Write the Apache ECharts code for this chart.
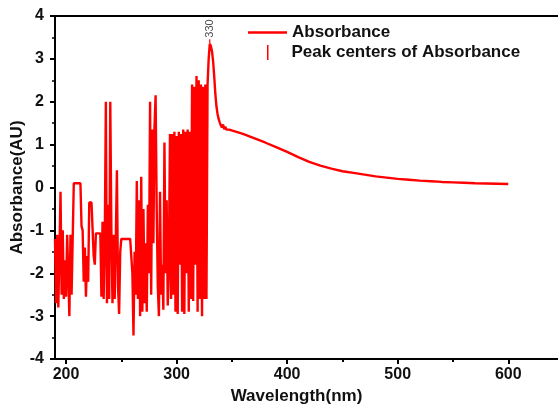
<!DOCTYPE html>
<html><head><meta charset="utf-8">
<script src="https://cdn.jsdelivr.net/npm/echarts@6/dist/echarts.min.js"></script>
<style>html,body{margin:0;padding:0;background:#fff}#c{width:558px;height:408px}</style>
</head><body><div id="c"></div>
<script>
const wavelength = [190,191,192,193,194,195,196,197,198,199,200,201,202,203,204,205,206,207,208,209,210,211,212,213,214,215,216,217,218,219,220,221,222,223,224,225,226,227,228,229,230,231,232,233,234,235,236,237,238,239,240,241,242,243,244,245,246,247,248,249,250,251,252,253,254,255,256,257,258,259,260,261,262,263,264,265,266,267,268,269,270,271,272,273,274,275,276,277,278,279,280,281,282,283,284,285,286,287,288,289,290,291,292,293,294,295,296,297,298,299,300,301,302,303,304,305,306,307,308,309,310,311,312,313,314,315,316,317,318,319,320,321,322,323,324,325,326,327,328,329,330,331,332,333,334,335,336,337,338,339,340,341,342,343,344,345,346,347,348,349,350,360,370,380,390,400,410,420,430,440,450,460,470,480,490,500,510,520,530,540,550,560,570,580,590,600];
const absorbance = [-1.2,-2.7,-1.1,-2.8,-1.5,-0.1,-2.5,-1.0,-2.6,-1.7,-2.55,-1.1,-2.0,-3.0,-1.1,-2.5,-1.2,0.1,0.1,0.1,0.1,0.1,0.1,0.1,-0.9,-1.0,-2.2,-1.4,-2.55,-1.6,-2.2,-0.35,-0.35,-0.35,-0.35,-1.6,-1.8,-1.07,-1.07,-1.07,-1.07,-1.07,-2.55,-0.8,-2.6,-1.3,2.0,-2.7,-0.4,-2.6,2.0,-1.0,-2.7,-1.1,-2.6,-1.2,0.4,-2.3,-2.95,-1.5,-1.2,-1.2,-1.2,-1.2,-1.2,-1.2,-1.2,-1.2,-1.2,-1.2,-2.0,-3.45,-1.5,-2.5,0.15,-2.6,-0.3,-3.0,0.25,-2.9,-0.5,-2.7,-1.3,-2.9,-0.4,-2.0,2.0,-2.5,1.35,-1.3,1.4,2.15,-0.5,-2.3,-3.0,-0.1,-2.5,-1.8,-2.85,1.05,-2.0,-0.3,-2.75,-1.8,1.25,-2.6,1.25,-2.5,1.3,-2.9,1.2,-2.95,1.3,-1.8,1.25,-2.9,1.35,-2.95,1.3,-2.0,1.35,-2.9,1.3,-2.6,2.4,-2.65,2.35,-1.8,2.6,-2.9,2.5,-2.6,2.4,-3.0,2.35,-2.6,2.4,-2.6,2.4,3.0,3.35,3.3,3.18,2.95,2.6,2.2,1.9,1.72,1.6,1.52,1.45,1.4,1.47,1.36,1.42,1.35,1.37,1.35,1.35,1.34,1.33,1.25,1.15,1.05,0.94,0.83,0.71,0.6,0.51,0.44,0.38,0.34,0.3,0.26,0.23,0.2,0.18,0.16,0.145,0.13,0.12,0.11,0.1,0.095,0.088,0.08];
const peakCenter = [330];
const peakSpan = [3.36, 3.46];
const xTicks = [200,300,400,500,600];
const xMinorTicks = [250,350,450,550];

const FONT = "'Liberation Sans', Arial, sans-serif";
const chart = echarts.init(document.getElementById('c'), null, {renderer:'canvas'});
const mainData = wavelength.map((w,i)=>[w, absorbance[i]]);
const peakData = [[peakCenter[0], peakSpan[0]], [peakCenter[0], peakSpan[1]]];

chart.setOption({
  animation:false,
  backgroundColor:'#fff',
  grid:{left:55, top:16, right:0, bottom:49, outerBoundsMode:'none'},
  legend:[
    {data:['Absorbance'], left:248, top:24, padding:0, icon:'rect', itemWidth:39, itemHeight:2.5,
     textStyle:{fontFamily:FONT, fontWeight:'bold', fontSize:17, color:'#111'}},
    {data:['Peak centers of Absorbance'], left:267, top:44, padding:0, icon:'rect', itemWidth:1.5, itemHeight:15,
     textStyle:{fontFamily:FONT, fontWeight:'bold', fontSize:17, color:'#111', padding:[0,0,0,18]}}
  ],
  xAxis:[
    {type:'value', min:190, max:645, position:'bottom',
     name:'Wavelength(nm)', nameLocation:'middle', nameGap:27,
     nameTextStyle:{fontFamily:FONT, fontWeight:'bold', fontSize:17, color:'#111', padding:[0,20,0,0]},
     axisLine:{show:true, onZero:false, lineStyle:{color:'#000', width:2}},
     axisTick:{show:true, customValues:xTicks, length:5, inside:false, lineStyle:{color:'#000', width:2}},
     axisLabel:{show:true, customValues:xTicks, margin:8, fontFamily:FONT, fontWeight:'bold', fontSize:16, color:'#111'},
     splitLine:{show:false}},
    {type:'value', min:190, max:645, position:'bottom', gridIndex:0,
     axisLine:{show:false, onZero:false},
     axisTick:{show:true, customValues:xMinorTicks, length:3, lineStyle:{color:'#000', width:2}},
     axisLabel:{show:false}, splitLine:{show:false}},
    {type:'value', min:190, max:645, position:'top', gridIndex:0,
     axisLine:{show:true, onZero:false, lineStyle:{color:'#000', width:2}},
     axisTick:{show:false}, axisLabel:{show:false}, splitLine:{show:false}}
  ],
  yAxis:{type:'value', min:-4, max:4, interval:1,
    name:'Absorbance(AU)', nameLocation:'middle', nameGap:29, nameMoveOverlap:false,
    nameTextStyle:{fontFamily:FONT, fontWeight:'bold', fontSize:17, color:'#111'},
    axisLine:{show:true, onZero:false, lineStyle:{color:'#000', width:2}},
    axisTick:{show:true, length:5, lineStyle:{color:'#000', width:2}},
    minorTick:{show:true, splitNumber:2, length:3, lineStyle:{color:'#000', width:1.5}},
    axisLabel:{margin:11, fontFamily:FONT, fontWeight:'bold', fontSize:16, color:'#111'},
    splitLine:{show:false}},
  series:[
    {name:'Absorbance', type:'line', xAxisIndex:0, data:mainData, symbol:'none', color:'#ff0000',
     lineStyle:{width:2.4, color:'#ff0000'}, z:2},
    {name:'Peak centers of Absorbance', type:'line', xAxisIndex:0, data:peakData, symbol:'none', color:'#ff0000',
     lineStyle:{width:1.2, color:'#ff0000'}, z:3},
    {name:'peakLabel', type:'scatter', xAxisIndex:0, data:[[peakCenter[0], peakSpan[1]]], symbolSize:1,
     itemStyle:{color:'rgba(0,0,0,0)'}, silent:true,
     label:{show:true, formatter:String(peakCenter[0]), position:'top', rotate:90, align:'left', verticalAlign:'middle',
       distance:1, fontSize:11, fontFamily:FONT, color:'#222'}, z:4}
  ]
});
</script></body></html>
